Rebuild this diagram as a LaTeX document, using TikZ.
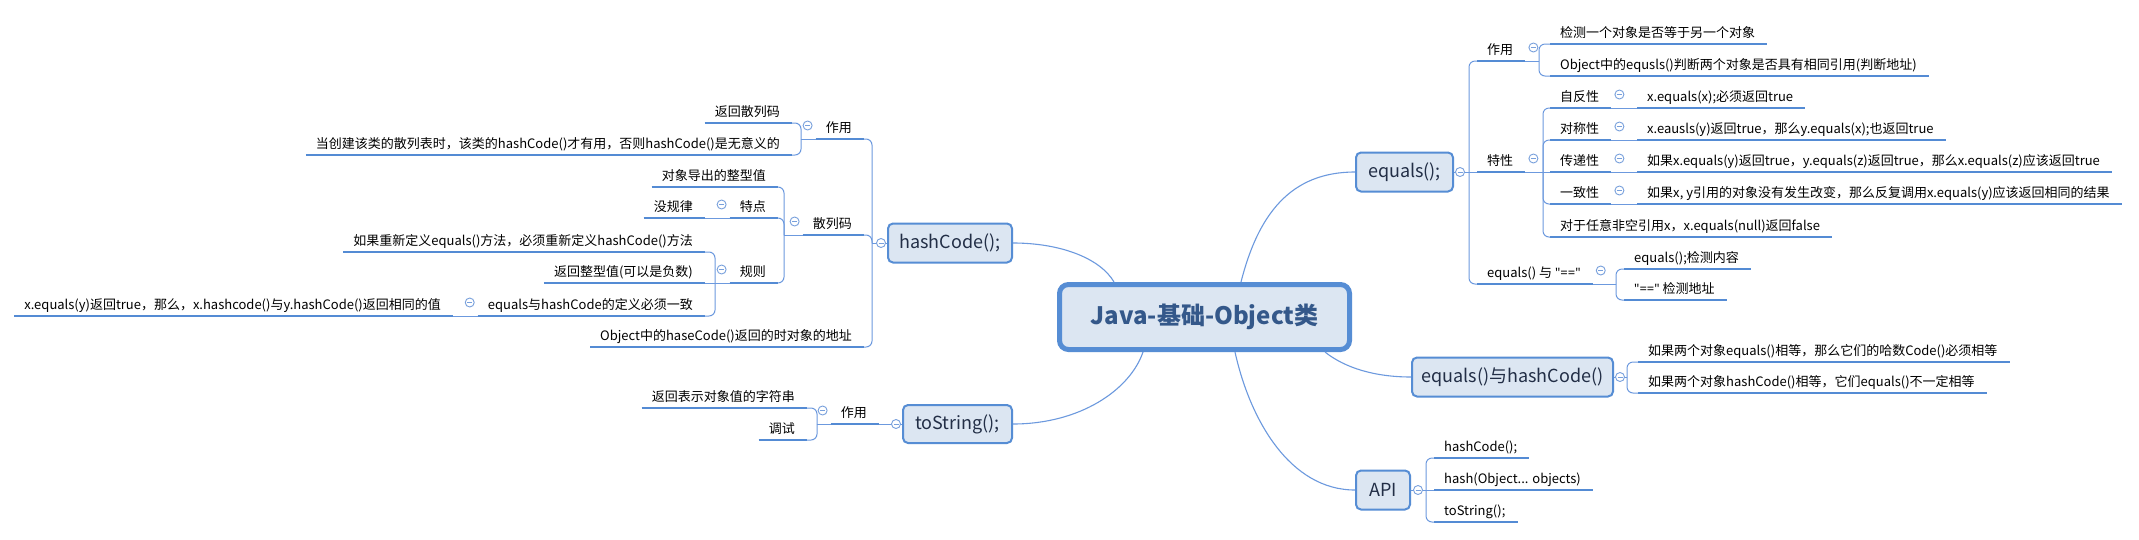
\documentclass[tikz,border=0pt]{standalone}
\usepackage{fontspec}
\setmainfont{Noto Sans CJK SC}
\newfontfamily\latf{Noto Sans}
\usetikzlibrary{calc}
\definecolor{lncol}{RGB}{108,153,222}
\definecolor{ulcol}{RGB}{84,139,212}
\definecolor{boxfill}{RGB}{220,230,242}
\definecolor{boxdraw}{RGB}{86,141,212}
\definecolor{circol}{RGB}{120,160,220}
\definecolor{boxtext}{RGB}{34,46,70}
\definecolor{ctrtext}{RGB}{52,88,138}
\tikzset{
  lf/.style={inner sep=0pt, font=\fontsize{13}{13}\selectfont, text=black},
  ul/.style={draw=ulcol, line width=2.6pt},
  cn/.style={draw=lncol, line width=1pt, rounded corners=6pt},
  mcurve/.style={draw=lncol, line width=1.1pt},
  box/.style={draw=boxdraw, fill=boxfill, line width=2pt, rounded corners=5pt, inner sep=0pt,
    font=\fontsize{18}{18}\selectfont, text=boxtext},
  cir/.style={circle, draw=circol, fill=white, line width=0.9pt, minimum size=9pt, inner sep=0pt,
    path picture={\draw[circol,line width=0.9pt] ([xshift=-2.5pt]path picture bounding box.center) -- ([xshift=2.5pt]path picture bounding box.center);}},
}
% left-side leaf: name, x of right end of underline, row of underline, text
\newcommand{\LL}[4]{%
  \node[lf, anchor=base east] (#1) at (#2-12, #3-7) {#4};
  \coordinate (#1-e) at (#2,#3);
  \coordinate (#1-s) at ($(#1.west |- #1-e)+(-10,0)$);
  \draw[ul] (#1-s) -- (#1-e);
}
% right-side leaf: name, x of left end of underline, row of underline, text
\newcommand{\RL}[4]{%
  \node[lf, anchor=base west] (#1) at (#2+10, #3-7) {#4};
  \coordinate (#1-s) at (#2,#3);
  \coordinate (#1-e) at ($(#1.east |- #1-s)+(12,0)$);
  \draw[ul] (#1-s) -- (#1-e);
}
\begin{document}
\begin{tikzpicture}[x=1pt, y=-1pt]
\fill[white] (0,0) rectangle (2139,539);
\useasboundingbox (0,0) rectangle (2139,539);

% ---------- boxes ----------
\node[box, line width=5pt, rounded corners=9pt, minimum width=290pt, minimum height=65pt,
  font=\fontsize{24}{24}\selectfont\bfseries, text=ctrtext] (ctr) at (1204.5,317) {Java-基础-Object类};
\node[box, minimum width=124pt, minimum height=39pt] (hashC) at (950,243) {hashCode();};
\node[box, minimum width=109pt, minimum height=38pt] (toS) at (957.5,424) {toString();};
\node[box, minimum width=97pt, minimum height=39pt] (eq) at (1404.5,172) {equals();};
\node[box, minimum width=201pt, minimum height=39pt] (eqh) at (1512.5,377) {equals()与hashCode()};
\node[box, minimum width=54pt, minimum height=39pt] (api) at (1383,490) {API};

% ---------- main curves ----------
\draw[mcurve] (hashC.east) .. controls (1060,243) and (1100,258) .. ($(ctr.north)+(-90.5,0)$);
\draw[mcurve] ($(ctr.north)+(36.5,0)$) .. controls (1258,215) and (1290,172) .. (eq.west);
\draw[mcurve] (toS.east) .. controls (1080,424) and (1130,390) .. ($(ctr.south)+(-61.5,0)$);
\draw[mcurve] ($(ctr.south)+(120.5,0)$) .. controls (1345,368) and (1375,377) .. (eqh.west);
\draw[mcurve] ($(ctr.south)+(30.5,0)$) .. controls (1250,420) and (1290,490) .. (api.west);

% ---------- hashCode subtree ----------
\LL{h1}{864}{139}{作用}
\LL{h2}{864}{235}{散列码}
\LL{h3}{864}{347}{Object中的haseCode()返回的时对象的地址}
\LL{h11}{792}{123}{返回散列码}
\LL{h12}{792}{155}{当创建该类的散列表时，该类的hashCode()才有用，否则hashCode()是无意义的}
\LL{h21}{778}{187}{对象导出的整型值}
\LL{h22}{778}{218}{特点}
\LL{h23}{778}{283}{规则}
\LL{h221}{705}{218}{没规律}
\LL{h231}{705}{252}{如果重新定义equals()方法，必须重新定义hashCode()方法}
\LL{h232}{705}{283}{返回整型值(可以是负数)}
\LL{h233}{705}{316}{equals与hashCode的定义必须一致}
\LL{h2331}{453}{316}{x.equals(y)返回true，那么，x.hashcode()与y.hashCode()返回相同的值}

\coordinate (jh) at (872,243);
\coordinate (jh1) at (801,139);
\coordinate (jh2) at (784,235);
\coordinate (jh23) at (715,283);
\draw[cn] (hashC.west) -- (jh);
\draw[cn] (jh) |- (h1-e);
\draw[cn] (jh) |- (h2-e);
\draw[cn] (jh) |- (h3-e);
\draw[cn] (h1-s) -- (jh1);
\draw[cn] (jh1) |- (h11-e);
\draw[cn] (jh1) |- (h12-e);
\draw[cn] (h2-s) -- (jh2);
\draw[cn] (jh2) |- (h21-e);
\draw[cn] (jh2) |- (h22-e);
\draw[cn] (jh2) |- (h23-e);
\draw[cn] (h22-s) -- (h221-e);
\draw[cn] (h23-s) -- (jh23);
\draw[cn] (jh23) |- (h231-e);
\draw[cn] (jh23) -- (h232-e);
\draw[cn] (jh23) |- (h233-e);
\draw[cn] (h233-s) -- (h2331-e);

% ---------- toString subtree ----------
\LL{t1}{879}{424}{作用}
\LL{t11}{807}{408}{返回表示对象值的字符串}
\LL{t12}{807}{440}{调试}
\coordinate (jt1) at (817,424);
\draw[cn] (toS.west) -- (t1-e);
\draw[cn] (t1-s) -- (jt1);
\draw[cn] (jt1) |- (t11-e);
\draw[cn] (jt1) |- (t12-e);

% ---------- equals subtree ----------
\RL{e1}{1477}{61}{作用}
\RL{e2}{1477}{172}{特性}
\RL{e3}{1477}{284}{equals() 与 {\latf "=="}}
\RL{e11}{1550}{44}{检测一个对象是否等于另一个对象}
\RL{e12}{1550}{76}{Object中的equsls()判断两个对象是否具有相同引用(判断地址)}
\RL{e21}{1550}{108}{自反性}
\RL{e22}{1550}{140}{对称性}
\RL{e23}{1550}{172}{传递性}
\RL{e24}{1550}{204}{一致性}
\RL{e25}{1550}{237}{对于任意非空引用x，x.equals(null)返回false}
\RL{e211}{1637}{108}{x.equals(x);必须返回true}
\RL{e221}{1637}{140}{x.eausls(y)返回true，那么y.equals(x);也返回true}
\RL{e231}{1637}{172}{如果x.equals(y)返回true，y.equals(z)返回true，那么x.equals(z)应该返回true}
\RL{e241}{1637}{204}{如果x, y引用的对象没有发生改变，那么反复调用x.equals(y)应该返回相同的结果}
\RL{e31}{1624}{269}{equals();检测内容}
\RL{e32}{1624}{300}{{\latf "=="} 检测地址}

\coordinate (je) at (1469,172);
\coordinate (je1) at (1539,61);
\coordinate (je2) at (1543,172);
\coordinate (je3) at (1616,284);
\draw[cn] (eq.east) -- (je);
\draw[cn] (je) |- (e1-s);
\draw[cn] (je) -- (e2-s);
\draw[cn] (je) |- (e3-s);
\draw[cn] (e1-e) -- (je1);
\draw[cn] (je1) |- (e11-s);
\draw[cn] (je1) |- (e12-s);
\draw[cn] (e2-e) -- (je2);
\draw[cn] (je2) |- (e21-s);
\draw[cn] (je2) |- (e22-s);
\draw[cn] (je2) -- (e23-s);
\draw[cn] (je2) |- (e24-s);
\draw[cn] (je2) |- (e25-s);
\draw[cn] (e21-e) -- (e211-s);
\draw[cn] (e22-e) -- (e221-s);
\draw[cn] (e23-e) -- (e231-s);
\draw[cn] (e24-e) -- (e241-s);
\draw[cn] (e3-e) -- (je3);
\draw[cn] (je3) |- (e31-s);
\draw[cn] (je3) |- (e32-s);

% ---------- equals()与hashCode() subtree ----------
\RL{q1}{1638}{362}{如果两个对象equals()相等，那么它们的哈数Code()必须相等}
\RL{q2}{1638}{393}{如果两个对象hashCode()相等，它们equals()不一定相等}
\coordinate (jq) at (1627,377);
\draw[cn] (eqh.east) -- (jq);
\draw[cn] (jq) |- (q1-s);
\draw[cn] (jq) |- (q2-s);

% ---------- API subtree ----------
\RL{a1}{1434}{458}{hashCode();}
\RL{a2}{1434}{490}{hash(Object... objects)}
\RL{a3}{1434}{522}{toString();}
\coordinate (ja) at (1426,490);
\draw[cn] (api.east) -- (ja);
\draw[cn] (ja) |- (a1-s);
\draw[cn] (ja) -- (a2-s);
\draw[cn] (ja) |- (a3-s);

% ---------- collapse circles ----------
\node[cir] (c-hashC) at ($(hashC.west)+(-6,0)$) {};
\node[cir] (c-toS) at ($(toS.west)+(-6,0)$) {};
\node[cir] (c-eq) at ($(eq.east)+(6,0)$) {};
\node[cir] (c-eqh) at ($(eqh.east)+(6,0)$) {};
\node[cir] (c-api) at ($(api.east)+(7,0)$) {};
\node[cir] (c-h1) at ($(h1-s)+(-8,-13.5)$) {};
\node[cir] (c-h2) at ($(h2-s)+(-8,-13.5)$) {};
\node[cir] (c-h22) at ($(h22-s)+(-8,-13.5)$) {};
\node[cir] (c-h23) at ($(h23-s)+(-8,-13.5)$) {};
\node[cir] (c-h233) at ($(h233-s)+(-8,-13.5)$) {};
\node[cir] (c-t1) at ($(t1-s)+(-8,-13.5)$) {};
\node[cir] (c-e1) at ($(e1-e)+(8,-13.5)$) {};
\node[cir] (c-e2) at ($(e2-e)+(8,-13.5)$) {};
\node[cir] (c-e3) at ($(e3-e)+(8,-13.5)$) {};
\node[cir] (c-e21) at ($(e21-e)+(8,-13.5)$) {};
\node[cir] (c-e22) at ($(e22-e)+(8,-13.5)$) {};
\node[cir] (c-e23) at ($(e23-e)+(8,-13.5)$) {};
\node[cir] (c-e24) at ($(e24-e)+(8,-13.5)$) {};
\end{tikzpicture}
\end{document}
